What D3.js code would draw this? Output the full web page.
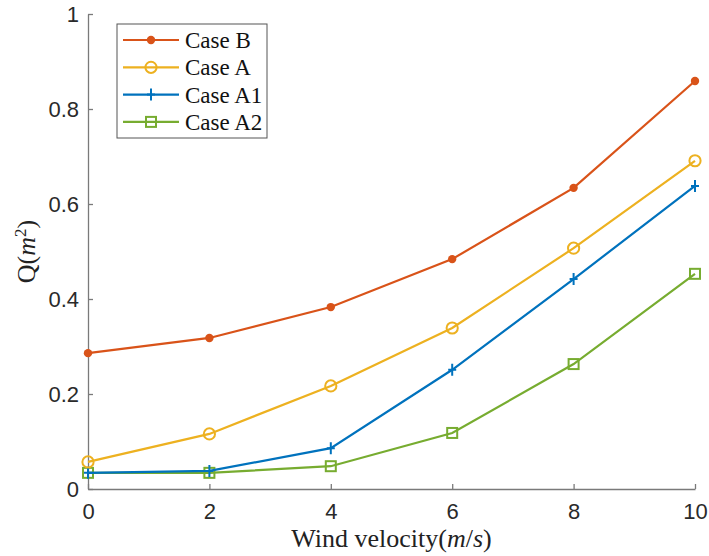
<!DOCTYPE html>
<html>
<head>
<meta charset="utf-8">
<script src="https://cdn.jsdelivr.net/npm/d3@7"></script>
<style>
  body { margin: 0; background: #fff; }
  svg { display: block; }
</style>
</head>
<body>
<div id="chart"></div>
<script>
// wind velocity (m/s)
var windSpeeds = [0, 2, 4, 6, 8, 10];
var caseB  = [0.286, 0.318, 0.383, 0.484, 0.634, 0.859];
var caseA  = [0.057, 0.116, 0.217, 0.339, 0.507, 0.691];
var caseA1 = [0.034, 0.038, 0.086, 0.251, 0.442, 0.638];
var caseA2 = [0.034, 0.034, 0.048, 0.118, 0.263, 0.453];
var seriesNames = ["Case B", "Case A", "Case A1", "Case A2"];
var xTicks = [0, 2, 4, 6, 8, 10];
var yTicks = [0, 0.2, 0.4, 0.6, 0.8, 1];

var series = [
  { name: seriesNames[0], values: caseB,  color: "#D95319", marker: "dot" },
  { name: seriesNames[1], values: caseA,  color: "#EDB120", marker: "circle" },
  { name: seriesNames[2], values: caseA1, color: "#0072BD", marker: "plus" },
  { name: seriesNames[3], values: caseA2, color: "#77AC30", marker: "square" }
];

var W = 709, H = 556;
var plotLeft = 88, plotRight = 695, plotTop = 14, plotBottom = 489;

var svg = d3.select("#chart").append("svg")
  .attr("width", W).attr("height", H);

var x = d3.scaleLinear().domain([0, 10]).range([plotLeft, plotRight]);
var y = d3.scaleLinear().domain([0, 1]).range([plotBottom, plotTop]);

// axes (ticks pointing inward, like matlab)
var xAxis = svg.append("g")
  .attr("transform", "translate(0," + plotBottom + ")")
  .call(d3.axisBottom(x).tickValues(xTicks).tickSize(-5).tickPadding(14).tickSizeOuter(0));
var yAxis = svg.append("g")
  .attr("transform", "translate(" + plotLeft + ",0)")
  .call(d3.axisLeft(y).tickValues(yTicks).tickSize(-5).tickPadding(9).tickSizeOuter(0)
    .tickFormat(function(d) { return d3.format("~g")(d); }));

svg.selectAll(".domain").attr("stroke", "#7a7a7a").attr("stroke-width", 1.3);
svg.selectAll(".tick line").attr("stroke", "#7a7a7a").attr("stroke-width", 1.3);
svg.selectAll(".tick text")
  .attr("fill", "#2a2a2a")
  .style("font-family", "'Liberation Sans', Arial, sans-serif")
  .style("font-size", "22px");
xAxis.selectAll(".tick text").attr("y", 14).attr("dy", "0.71em");

// lines
var line = d3.line()
  .x(function(d, i) { return x(windSpeeds[i]); })
  .y(function(d) { return y(d); });

function drawMarker(g, type, cx, cy, color) {
  if (type == "dot") {
    g.append("circle").attr("cx", cx).attr("cy", cy).attr("r", 4.2).attr("fill", color);
  }
  if (type == "circle") {
    g.append("circle").attr("cx", cx).attr("cy", cy).attr("r", 5.6)
      .attr("fill", "none").attr("stroke", color).attr("stroke-width", 2);
  }
  if (type == "plus") {
    g.append("path")
      .attr("d", "M" + (cx - 4) + "," + cy + "H" + (cx + 4) + "M" + cx + "," + (cy - 6) + "V" + (cy + 6))
      .attr("stroke", color).attr("stroke-width", 2).attr("fill", "none");
  }
  if (type == "square") {
    g.append("rect").attr("x", cx - 5).attr("y", cy - 5).attr("width", 10).attr("height", 10)
      .attr("fill", "none").attr("stroke", color).attr("stroke-width", 2);
  }
}

// draw in reverse so Case B stays on top
series.slice().reverse().forEach(function(s) {
  var g = svg.append("g");
  g.append("path")
    .datum(s.values)
    .attr("d", line)
    .attr("fill", "none")
    .attr("stroke", s.color)
    .attr("stroke-width", 2.2);
  s.values.forEach(function(v, i) {
    drawMarker(g, s.marker, x(windSpeeds[i]), y(v), s.color);
  });
});

// legend
var legend = svg.append("g");
legend.append("rect")
  .attr("x", 117).attr("y", 24).attr("width", 150).attr("height", 114)
  .attr("fill", "#fff").attr("stroke", "#555").attr("stroke-width", 1);

series.forEach(function(s, i) {
  var ly = 40 + i * 27.3;
  legend.append("line")
    .attr("x1", 123).attr("x2", 179).attr("y1", ly).attr("y2", ly)
    .attr("stroke", s.color).attr("stroke-width", 2.2);
  drawMarker(legend, s.marker, 151, ly, s.color);
  legend.append("text")
    .attr("x", 185).attr("y", ly).attr("dy", "0.35em")
    .style("font-family", "'Liberation Serif', 'Times New Roman', serif")
    .style("font-size", "23px")
    .attr("fill", "#111")
    .text(s.name);
});

// axis labels
var xl = svg.append("text")
  .attr("x", (plotLeft + plotRight) / 2).attr("y", 547)
  .attr("text-anchor", "middle")
  .style("font-family", "'Liberation Serif', 'Times New Roman', serif")
  .style("font-size", "26px")
  .attr("fill", "#222");
xl.append("tspan").text("Wind velocity(");
xl.append("tspan").attr("font-style", "italic").text("m");
xl.append("tspan").text("/");
xl.append("tspan").attr("font-style", "italic").text("s");
xl.append("tspan").text(")");

var yl = svg.append("text")
  .attr("transform", "translate(35," + ((plotTop + plotBottom) / 2) + ") rotate(-90)")
  .attr("text-anchor", "middle")
  .style("font-family", "'Liberation Serif', 'Times New Roman', serif")
  .style("font-size", "26px")
  .attr("fill", "#222");
yl.append("tspan").text("Q(");
yl.append("tspan").attr("font-style", "italic").text("m");
yl.append("tspan").attr("dy", "-9").style("font-size", "17px").text("2");
yl.append("tspan").attr("dy", "9").text(")");
</script>
</body>
</html>
